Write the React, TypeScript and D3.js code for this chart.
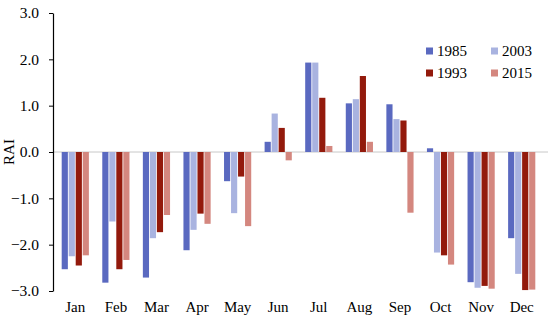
import React, { useEffect, useRef } from 'react';
import * as d3 from 'd3';

const months = ['Jan', 'Feb', 'Mar', 'Apr', 'May', 'Jun', 'Jul', 'Aug', 'Sep', 'Oct', 'Nov', 'Dec'];
const seriesNames = ['1985', '2003', '1993', '2015'];
const rai1985 = [-2.53, -2.82, -2.71, -2.12, -0.63, 0.22, 1.93, 1.05, 1.03, 0.08, -2.81, -1.86];
const rai2003 = [-2.25, -1.5, -1.86, -1.68, -1.32, 0.83, 1.93, 1.14, 0.71, -2.17, -2.93, -2.63];
const rai1993 = [-2.45, -2.53, -1.73, -1.33, -0.53, 0.52, 1.17, 1.64, 0.68, -2.23, -2.89, -2.98];
const rai2015 = [-2.23, -2.33, -1.36, -1.55, -1.6, -0.18, 0.13, 0.22, -1.31, -2.43, -2.95, -2.97];
const yTicks = [-3, -2, -1, 0, 1, 2, 3];

const colors: Record<string, string> = {
  '1985': '#5a69c0',
  '2003': '#a9b3e0',
  '1993': '#931a0c',
  '2015': '#d4877f',
};

const W = 550;
const H = 322;
const FONT = 'Liberation Serif, Times New Roman, serif';

export default function App() {
  const axisRef = useRef<SVGGElement>(null);

  const values = [rai1985, rai2003, rai1993, rai2015];

  const x0 = d3.scaleBand<string>().domain(months).range([55, 542]).paddingInner(0.33).paddingOuter(0.165);
  const x1 = d3.scaleBand<string>().domain(seriesNames).range([0, x0.bandwidth()]).paddingInner(0.12);
  const y = d3.scaleLinear().domain([-3, 3]).range([291, 13]);

  useEffect(() => {
    if (!axisRef.current) return;
    const g = d3.select(axisRef.current);
    g.selectAll('*').remove();
    g.call(
      d3.axisLeft(y).tickValues(yTicks).tickSize(4).tickSizeOuter(0).tickPadding(10).tickFormat(d3.format('.1f') as any)
    );
    // d3 puts sans-serif on the group, override it
    g.attr('font-family', FONT).attr('font-size', 15.5);
    g.select('.domain').attr('stroke', '#000').attr('stroke-width', 1.2);
    g.selectAll('.tick line').attr('stroke', '#000');
    g.selectAll('.tick text').attr('fill', '#000');
  }, []);

  return (
    <svg width={W} height={H} style={{ position: 'absolute', left: 0, top: 0, background: '#fff' }}>
      {/* zero line */}
      <line x1={53} x2={548} y1={y(0)} y2={y(0)} stroke="#c8c8c8" strokeWidth={1} />

      {months.map((m, i) => (
        <g key={m} transform={`translate(${x0(m)},0)`}>
          {seriesNames.map((s, j) => {
            const v = values[j][i];
            return (
              <rect
                key={s}
                x={x1(s)}
                y={y(Math.max(0, v))}
                width={x1.bandwidth()}
                height={Math.abs(y(v) - y(0))}
                fill={colors[s]}
              />
            );
          })}
        </g>
      ))}

      <g ref={axisRef} transform="translate(53,0)" />

      {months.map((m) => (
        <text
          key={m}
          x={(x0(m) as number) + x0.bandwidth() / 2}
          y={312}
          textAnchor="middle"
          fontFamily={FONT}
          fontSize={15}
          fill="#000"
        >
          {m}
        </text>
      ))}

      <text
        transform={`translate(14,${y(0)}) rotate(-90)`}
        textAnchor="middle"
        fontFamily={FONT}
        fontSize={15}
        fill="#000"
      >
        RAI
      </text>

      {/* legend */}
      {seriesNames.map((s, i) => {
        const lx = i % 2 === 0 ? 426 : 491;
        const ly = i < 2 ? 51 : 73;
        return (
          <g key={s} transform={`translate(${lx},${ly})`}>
            <rect x={0} y={-3.5} width={7} height={7} fill={colors[s]} />
            <text x={11} y={5} fontFamily={FONT} fontSize={15} fill="#000">
              {s}
            </text>
          </g>
        );
      })}
    </svg>
  );
}
